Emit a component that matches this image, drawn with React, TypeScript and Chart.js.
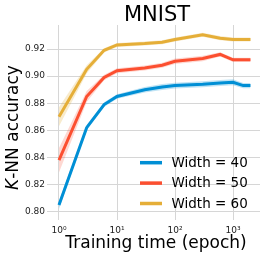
import React, { useEffect, useRef } from "react";
import { Chart, registerables } from "chart.js";

Chart.register(...registerables);

// ---- data ----
const epochs = [1, 3, 6, 10, 30, 60, 100, 300, 600, 1000, 1500, 2000];
const width40 = [0.805, 0.862, 0.879, 0.885, 0.89, 0.892, 0.893, 0.894, 0.895, 0.8955, 0.893, 0.893];
const width40Err = [0.003, 0.002, 0.0017, 0.0017, 0.002, 0.0022, 0.0022, 0.0022, 0.0022, 0.0022, 0.002, 0.002];
const width50 = [0.838, 0.885, 0.899, 0.904, 0.906, 0.908, 0.911, 0.913, 0.916, 0.912, 0.912, 0.912];
const width50Err = [0.009, 0.004, 0.002, 0.0018, 0.0018, 0.0018, 0.002, 0.002, 0.0016, 0.0015, 0.0015, 0.0015];
const width60 = [0.87, 0.905, 0.919, 0.923, 0.924, 0.925, 0.927, 0.9305, 0.928, 0.927, 0.927, 0.927];
const width60Err = [0.007, 0.003, 0.0016, 0.0015, 0.0015, 0.0015, 0.0015, 0.0015, 0.0015, 0.0015, 0.0015, 0.0015];

const seriesLabels = ["Width = 40", "Width = 50", "Width = 60"];
const seriesValues = [width40, width50, width60];
const seriesErrors = [width40Err, width50Err, width60Err];
const seriesColors = ["#008fd5", "#fc4f30", "#e5ae38"];
const bandColors = ["rgba(0,143,213,0.25)", "rgba(252,79,48,0.22)", "rgba(229,174,56,0.25)"];

const yTicks = [0.8, 0.82, 0.84, 0.86, 0.88, 0.9, 0.92];
const xTicks = [1, 10, 100, 1000];
const xTickLabels = ["10\u2070", "10\u00b9", "10\u00b2", "10\u00b3"];

const titleText = "MNIST";
const xTitleText = "Training time (epoch)";
const yTitleItalic = "K";
const yTitleRest = "-NN accuracy";

const FONT = '"DejaVu Sans", "Liberation Sans", sans-serif';

const textPlugin = {
  id: "textPlugin",
  afterDraw(chart: any) {
    const { ctx, chartArea } = chart;
    const cx = (chartArea.left + chartArea.right) / 2;
    ctx.save();
    ctx.fillStyle = "#000";
    // title
    ctx.font = `21px ${FONT}`;
    ctx.textAlign = "center";
    ctx.textBaseline = "alphabetic";
    ctx.fillText(titleText, cx + 2, chartArea.top - 4.5);
    // x title
    ctx.font = `17px ${FONT}`;
    ctx.fillText(xTitleText, cx + 1, chartArea.bottom + 28);
    // y title
    ctx.save();
    ctx.translate(18, (chartArea.top + chartArea.bottom) / 2 + 5);
    ctx.rotate(-Math.PI / 2);
    ctx.font = `italic 17px ${FONT}`;
    const w1 = ctx.measureText(yTitleItalic).width;
    ctx.font = `17px ${FONT}`;
    const w2 = ctx.measureText(yTitleRest).width;
    const start = -(w1 + w2) / 2;
    ctx.textAlign = "left";
    ctx.font = `italic 17px ${FONT}`;
    ctx.fillText(yTitleItalic, start, 0);
    ctx.font = `17px ${FONT}`;
    ctx.fillText(yTitleRest, start + w1, 0);
    ctx.restore();
    // legend
    ctx.font = `13.5px ${FONT}`;
    ctx.textAlign = "left";
    ctx.textBaseline = "middle";
    const baseY = chartArea.bottom - 57.3;
    seriesLabels.forEach((lab, i) => {
      const y = baseY + i * 20.4;
      ctx.strokeStyle = seriesColors[i];
      ctx.lineWidth = 3.5;
      ctx.lineCap = "butt";
      ctx.beginPath();
      ctx.moveTo(140, y);
      ctx.lineTo(162, y);
      ctx.stroke();
      ctx.fillStyle = "#000";
      ctx.fillText(lab, 171.5, y + 0.5);
    });
    ctx.restore();
  },
};

export default function App() {
  const canvasRef = useRef<HTMLCanvasElement | null>(null);

  useEffect(() => {
    if (!canvasRef.current) return;
    const datasets: any[] = [];
    seriesValues.forEach((vals, i) => {
      datasets.push({
        label: seriesLabels[i],
        data: epochs.map((e, j) => ({ x: e, y: vals[j] })),
        borderColor: seriesColors[i],
        borderWidth: 3,
        pointRadius: 0,
        fill: false,
        tension: 0,
        order: 0,
      });
    });
    seriesValues.forEach((vals, i) => {
      const errs = seriesErrors[i];
      datasets.push({
        label: seriesLabels[i] + " upper",
        data: epochs.map((e, j) => ({ x: e, y: vals[j] + errs[j] })),
        borderWidth: 0,
        borderColor: "rgba(0,0,0,0)",
        backgroundColor: bandColors[i],
        pointRadius: 0,
        fill: "+1",
        order: 5,
      });
      datasets.push({
        label: seriesLabels[i] + " lower",
        data: epochs.map((e, j) => ({ x: e, y: vals[j] - errs[j] })),
        borderWidth: 0,
        borderColor: "rgba(0,0,0,0)",
        pointRadius: 0,
        fill: false,
        order: 5,
      });
    });

    const chart = new Chart(canvasRef.current, {
      type: "line",
      data: { datasets },
      options: {
        animation: false,
        responsive: false,
        devicePixelRatio: 1,
        layout: { padding: { top: 25, right: 6, left: 0, bottom: 0 } },
        plugins: {
          legend: { display: false },
          tooltip: { enabled: false },
          title: { display: false },
        },
        scales: {
          x: {
            type: "logarithmic",
            min: 0.729,
            max: 2917,
            border: { display: false },
            grid: { color: "#d6d6d6", lineWidth: 1, drawTicks: false },
            afterBuildTicks: (scale: any) => {
              scale.ticks = xTicks.map((v) => ({ value: v }));
            },
            afterFit: (scale: any) => {
              scale.height = 39;
            },
            ticks: {
              autoSkip: false,
              maxRotation: 0,
              padding: 5,
              color: "#222",
              font: { family: FONT, size: 9 },
              callback: (v: any) => {
                const idx = xTicks.indexOf(Number(v));
                return idx >= 0 ? xTickLabels[idx] : "";
              },
            },
          },
          y: {
            type: "linear",
            min: 0.7939,
            max: 0.9377,
            border: { display: false },
            grid: { color: "#d6d6d6", lineWidth: 1, drawTicks: true, tickLength: 3, tickColor: "#d6d6d6" },
            afterBuildTicks: (scale: any) => {
              scale.ticks = yTicks.map((v) => ({ value: v }));
            },
            afterFit: (scale: any) => {
              scale.width = 50;
            },
            ticks: {
              padding: 2,
              color: "#222",
              font: { family: FONT, size: 9 },
              callback: (v: any) => Number(v).toFixed(2),
            },
          },
        },
      },
      plugins: [textPlugin],
    });
    return () => chart.destroy();
  }, []);

  return (
    <div style={{ position: "fixed", left: 0, top: 0, width: 266, height: 259, background: "#fff" }}>
      <canvas ref={canvasRef} width={266} height={259} />
    </div>
  );
}
